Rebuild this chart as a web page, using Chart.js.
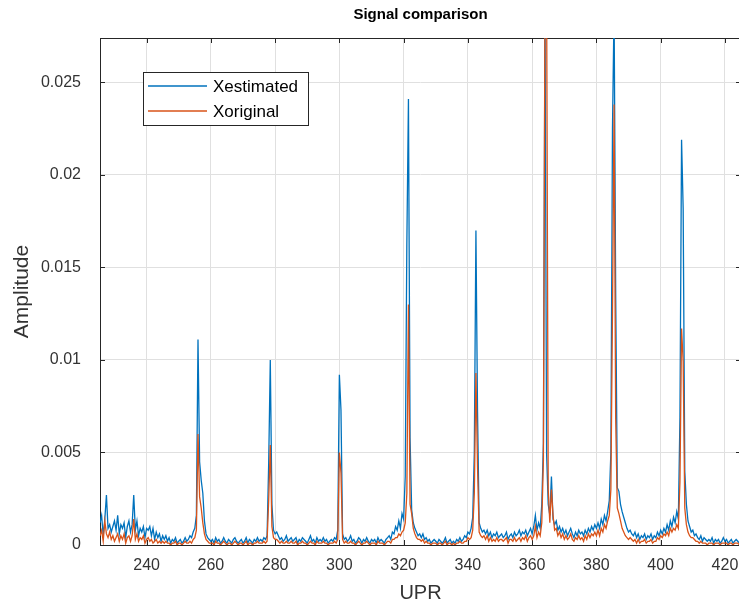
<!DOCTYPE html>
<html>
<head>
<meta charset="utf-8">
<title>Signal comparison</title>
<script src="https://cdn.jsdelivr.net/npm/chart.js@4.4.1/dist/chart.umd.min.js"></script>
<style>
  html, body { margin: 0; padding: 0; background: #fff; overflow: hidden; }
  #wrap { width: 742px; height: 608px; }
</style>
</head>
<body>
<div id="wrap"><canvas id="chart" width="742" height="608"></canvas></div>
<script>
// UPR sampling: first sample and spacing
var uprStart = 225.5;
var uprStep = 0.5;

// amplitudes in units of 1e-4, each row covers 5 UPR
var xestimated = [
  12, 16, 5, 14, 27, 9, 11, 7, 10, 13,      // 225.5
  8, 16, 6, 11, 9, 12, 4, 10, 13, 7,
  11, 27, 8, 13, 5, 9, 7, 10, 4, 9,
  8, 10, 5, 9, 3, 7, 4, 6, 2, 5,
  3, 5, 2, 4, 1, 3, 2, 4, 1, 2,
  3, 1, 2, 4, 2, 3, 5, 4, 7, 9,             // 250.5
  16, 111, 45, 35, 28, 13, 6, 4, 3, 2,
  3, 1, 4, 2, 3, 1, 2, 4, 2, 1,
  3, 2, 1, 3, 4, 2, 1, 2, 3, 1,
  2, 4, 1, 3, 2, 1, 3, 2, 4, 2,
  3, 2, 4, 3, 5, 44, 100, 22, 8, 6,         // 275.5
  7, 5, 3, 4, 2, 3, 5, 2, 3, 4,
  2, 3, 4, 1, 3, 2, 4, 3, 2, 1,
  3, 5, 2, 3, 1, 4, 2, 3, 2, 4,
  2, 3, 1, 2, 3, 2, 4, 3, 8, 92,
  73, 6, 3, 4, 2, 3, 5, 2, 3, 1,            // 300.5
  2, 4, 3, 1, 3, 2, 4, 2, 1, 3,
  2, 3, 1, 4, 2, 3, 2, 1, 3, 4,
  5, 3, 7, 6, 10, 8, 13, 9, 17, 14,
  37, 163, 241, 58, 19, 12, 9, 7, 5, 6,
  4, 6, 3, 4, 2, 3, 1, 2, 3, 2,             // 325.5
  1, 3, 2, 1, 2, 4, 1, 2, 3, 1,
  2, 1, 3, 2, 4, 2, 3, 5, 4, 7,
  6, 9, 15, 50, 170, 72, 12, 9, 7, 8,
  6, 8, 5, 7, 4, 6, 5, 7, 4, 5,
  6, 4, 5, 7, 3, 5, 6, 4, 7, 5,             // 350.5
  6, 8, 5, 7, 6, 8, 5, 7, 9, 6,
  10, 16, 8, 12, 9, 22, 55, 290, 49, 22,
  16, 37, 14, 11, 13, 8, 10, 7, 9, 6,
  8, 5, 7, 9, 6, 4, 7, 5, 8, 6,
  7, 5, 8, 6, 9, 7, 10, 8, 11, 9,           // 375.5
  12, 9, 14, 11, 16, 13, 18, 24, 50, 225,
  290, 135, 31, 29, 22, 18, 15, 12, 9, 7,
  8, 6, 5, 7, 4, 6, 3, 5, 4, 6,
  3, 5, 4, 6, 3, 5, 4, 7, 5, 8,
  6, 9, 7, 11, 8, 13, 10, 15, 12, 18,       // 400.5
  14, 69, 219, 182, 40, 22, 13, 10, 7, 8,
  5, 6, 4, 3, 5, 2, 4, 3, 2, 3,
  2, 4, 1, 3, 2, 3, 1, 2, 4, 2,
  3, 1, 2, 3, 1, 2, 3, 2, 1, 2
];

var xoriginal = [
  5, 8, 2, 13, 6, 4, 7, 3, 5, 2,            // 225.5
  4, 6, 2, 5, 3, 6, 1, 4, 5, 2,
  5, 14, 3, 6, 2, 4, 3, 5, 1, 3,
  4, 2, 3, 1, 2, 3, 1, 2, 1, 2,
  1, 2, 1, 1, 0, 1, 1, 2, 0, 1,
  1, 0, 1, 2, 1, 1, 2, 1, 3, 4,             // 250.5
  8, 60, 26, 20, 12, 6, 3, 2, 1, 1,
  1, 0, 2, 1, 1, 0, 1, 2, 1, 0,
  1, 1, 0, 1, 2, 1, 0, 1, 1, 0,
  1, 2, 0, 1, 1, 0, 1, 1, 2, 1,
  1, 1, 2, 1, 2, 24, 54, 10, 4, 3,          // 275.5
  3, 2, 1, 2, 1, 1, 2, 1, 1, 2,
  1, 1, 2, 0, 1, 1, 2, 1, 1, 0,
  1, 2, 1, 1, 0, 2, 1, 1, 1, 2,
  1, 1, 0, 1, 1, 1, 2, 1, 3, 50,
  39, 3, 1, 2, 1, 1, 2, 1, 1, 0,            // 300.5
  1, 2, 1, 0, 1, 1, 2, 1, 0, 1,
  1, 1, 0, 2, 1, 1, 1, 0, 1, 2,
  2, 1, 3, 3, 4, 4, 6, 5, 7, 8,
  12, 28, 130, 22, 17, 9, 6, 4, 3, 3,
  2, 3, 1, 2, 1, 1, 0, 1, 1, 1,             // 325.5
  0, 1, 1, 0, 1, 2, 0, 1, 1, 0,
  1, 0, 1, 1, 2, 1, 1, 2, 2, 4,
  3, 4, 8, 28, 93, 42, 7, 5, 4, 5,
  3, 5, 2, 4, 2, 3, 2, 4, 2, 3,
  3, 2, 3, 4, 1, 3, 3, 2, 4, 2,             // 350.5
  3, 4, 2, 4, 3, 5, 2, 4, 5, 3,
  5, 10, 4, 7, 5, 12, 46, 300, 300, 30,
  12, 30, 16, 8, 9, 5, 7, 4, 6, 3,
  5, 3, 4, 6, 3, 2, 4, 3, 5, 3,
  4, 2, 5, 3, 6, 4, 6, 5, 7, 5,             // 375.5
  8, 5, 9, 7, 11, 9, 13, 16, 30, 125,
  238, 68, 20, 17, 13, 9, 7, 5, 4, 3,
  4, 3, 2, 3, 1, 3, 1, 2, 2, 3,
  1, 2, 2, 3, 1, 2, 2, 4, 3, 5,
  4, 6, 5, 7, 5, 9, 7, 9, 8, 11,            // 400.5
  9, 34, 117, 99, 20, 11, 7, 5, 4, 4,
  3, 2, 2, 1, 2, 1, 1, 1, 0, 1,
  1, 1, 0, 1, 1, 1, 0, 1, 1, 1,
  1, 0, 1, 1, 0, 1, 1, 1, 0, 1
];

var xTicks = [240, 260, 280, 300, 320, 340, 360, 380, 400, 420];
var yTicks = [0, 0.005, 0.01, 0.015, 0.02, 0.025];
var xMin = 225.5, xMax = 425;
var yMin = 0, yMax = 0.0274;

var blue = '#0072BD';
var orange = '#D95319';
var axisColor = '#262626';
var fontFamily = '"Liberation Sans", Arial, Helvetica, sans-serif';

function toPoints(arr) {
  return arr.map(function(v, i) {
    return {x: uprStart + i * uprStep, y: v * 1e-4};
  });
}

// matlab style box, inward ticks, title and legend
var matlabAxes = {
  id: 'matlabAxes',
  beforeDatasetsDraw: function(chart) {
    var ctx = chart.ctx, ca = chart.chartArea;
    var xs = chart.scales.x, ys = chart.scales.y;
    ctx.save();
    ctx.strokeStyle = axisColor;
    ctx.lineWidth = 1;
    ctx.strokeRect(ca.left + 0.5, ca.top + 0.5, ca.right - ca.left - 1, ca.bottom - ca.top);
    ctx.beginPath();
    xTicks.forEach(function(v) {
      var px = Math.round(xs.getPixelForValue(v)) + 0.5;
      ctx.moveTo(px, ca.bottom); ctx.lineTo(px, ca.bottom - 5);
      ctx.moveTo(px, ca.top); ctx.lineTo(px, ca.top + 5);
    });
    yTicks.forEach(function(v) {
      var py = Math.round(ys.getPixelForValue(v)) + 0.5;
      ctx.moveTo(ca.left, py); ctx.lineTo(ca.left + 5, py);
      ctx.moveTo(ca.right, py); ctx.lineTo(ca.right - 5, py);
    });
    ctx.stroke();
    ctx.restore();
  },
  afterDraw: function(chart) {
    var ctx = chart.ctx, ca = chart.chartArea;
    ctx.save();
    // title
    ctx.fillStyle = '#000';
    ctx.font = 'bold 15px ' + fontFamily;
    ctx.textAlign = 'center';
    ctx.textBaseline = 'middle';
    ctx.fillText('Signal comparison', (ca.left + ca.right) / 2, 15);
    // legend
    var lx = 143.5, ly = 72.5;
    ctx.fillStyle = '#fff';
    ctx.fillRect(lx, ly, 165, 53);
    ctx.strokeStyle = axisColor;
    ctx.lineWidth = 1;
    ctx.strokeRect(lx, ly, 165, 53);
    var items = [['Xestimated', blue, 86], ['Xoriginal', orange, 111]];
    ctx.font = '17px ' + fontFamily;
    ctx.textAlign = 'left';
    items.forEach(function(it) {
      ctx.strokeStyle = it[1];
      ctx.lineWidth = 1.5;
      ctx.beginPath();
      ctx.moveTo(148, it[2]); ctx.lineTo(207, it[2]);
      ctx.stroke();
      ctx.fillStyle = '#000';
      ctx.fillText(it[0], 213, it[2] + 1);
    });
    ctx.restore();
  }
};

new Chart(document.getElementById('chart'), {
  type: 'line',
  data: {
    datasets: [{
      label: 'Xestimated',
      data: toPoints(xestimated),
      borderColor: blue,
      borderWidth: 1.3,
      order: 1
    }, {
      label: 'Xoriginal',
      data: toPoints(xoriginal),
      borderColor: orange,
      borderWidth: 1.3,
      order: 0
    }]
  },
  options: {
    responsive: false,
    animation: false,
    layout: {padding: {top: 38, right: 1, left: 0, bottom: 0}},
    elements: {point: {radius: 0}, line: {tension: 0, fill: false}},
    plugins: {
      legend: {display: false},
      tooltip: {enabled: false},
      title: {display: false}
    },
    scales: {
      x: {
        type: 'linear',
        min: xMin,
        max: xMax,
        afterFit: function(s) { s.height = 63; s.paddingLeft = 0; s.paddingRight = 0; },
        afterBuildTicks: function(s) { s.ticks = xTicks.map(function(v) { return {value: v}; }); },
        grid: {color: '#e0e0e0', drawTicks: false},
        border: {display: false},
        ticks: {
          padding: 11,
          color: '#333',
          maxRotation: 0,
          autoSkip: false,
          font: {family: fontFamily, size: 16}
        },
        title: {
          display: true,
          text: 'UPR',
          color: '#333',
          font: {family: fontFamily, size: 20},
          padding: {top: 0, bottom: 3}
        }
      },
      y: {
        min: yMin,
        max: yMax,
        afterFit: function(s) { s.width = 100; s.paddingTop = 0; s.paddingBottom = 0; },
        afterBuildTicks: function(s) { s.ticks = yTicks.map(function(v) { return {value: v}; }); },
        grid: {color: '#e0e0e0', drawTicks: false},
        border: {display: false},
        ticks: {
          padding: 19,
          color: '#333',
          font: {family: fontFamily, size: 16},
          callback: function(v) { return String(v); }
        },
        title: {
          display: true,
          text: 'Amplitude',
          color: '#333',
          font: {family: fontFamily, size: 21},
          padding: {top: 10, bottom: 0}
        }
      }
    }
  },
  plugins: [matlabAxes]
});
</script>
</body>
</html>
